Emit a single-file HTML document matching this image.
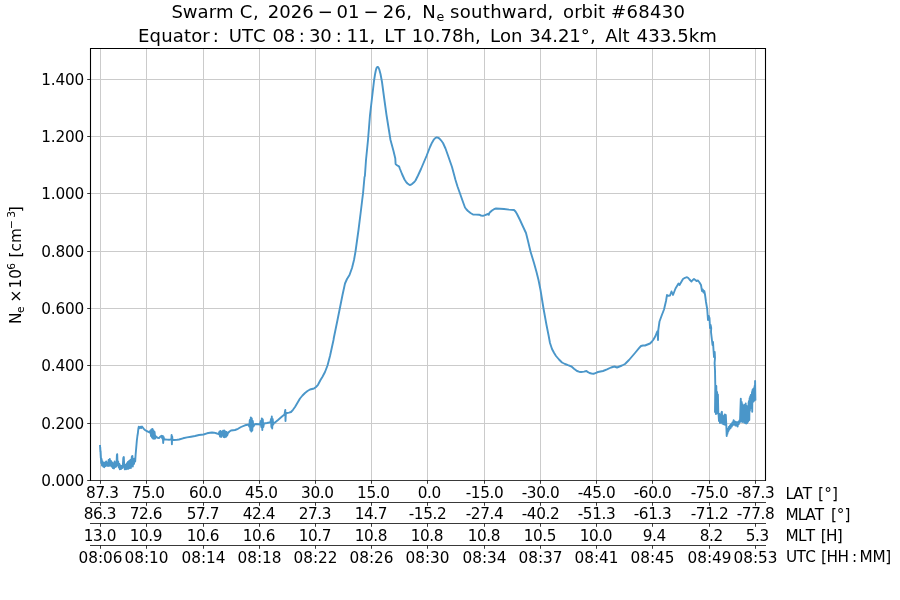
<!DOCTYPE html>
<html lang="en"><head><meta charset="utf-8"><title>Swarm C Ne</title>
<style>html,body{margin:0;padding:0;background:#fff}svg{display:block}text{font-kerning:none;font-family:"DejaVu Sans","Liberation Sans",sans-serif;fill:#000}.t{font-size:15.28px}.n{letter-spacing:-0.4px}.m{letter-spacing:-0.2px}.T{font-size:18.06px}.s{font-size:10.70px}.S{font-size:12.64px}</style></head><body>
<svg width="900" height="600" viewBox="0 0 900 600">
<rect width="900" height="600" fill="#fff"/>
<path d="M100.5 48.5V480.5M146.5 48.5V480.5M203.5 48.5V480.5M259.5 48.5V480.5M315.5 48.5V480.5M371.5 48.5V480.5M427.5 48.5V480.5M484.5 48.5V480.5M540.5 48.5V480.5M596.5 48.5V480.5M652.5 48.5V480.5M709.5 48.5V480.5M755.5 48.5V480.5M90.5 423.5H765.5M90.5 365.5H765.5M90.5 308.5H765.5M90.5 251.5H765.5M90.5 193.5H765.5M90.5 136.5H765.5M90.5 79.5H765.5" stroke="#cbcbcb" stroke-width="1" fill="none"/>
<path d="M100.0,445.0 100.4,452.0 100.2,447.0 100.8,458.0 100.6,451.0 101.2,463.0 101.6,459.0 102.0,465.5 102.6,461.5 103.2,466.5 103.8,463.0 104.3,467.2 105.0,462.5 105.6,466.0 106.2,461.5 106.8,465.5 107.5,463.0 108.0,466.0 108.6,460.0 109.2,465.8 109.8,459.0 110.4,465.5 111.0,461.0 111.6,466.5 112.2,462.5 112.8,468.0 113.4,463.5 114.0,468.5 114.6,461.5 115.2,467.0 115.8,463.0 116.4,466.5 116.9,455.0 117.2,454.2 117.6,465.0 118.2,461.5 118.8,467.5 119.4,464.0 119.8,469.3 120.4,465.5 121.0,469.0 121.6,466.0 122.2,468.0 122.8,466.0 123.3,458.0 123.8,457.0 124.3,467.5 124.9,469.4 125.5,465.0 126.1,469.2 126.7,463.5 127.3,468.8 127.9,462.0 128.5,468.8 129.1,461.0 129.7,468.0 130.3,460.0 130.9,468.0 131.5,459.5 131.9,456.5 132.4,456.0 132.8,466.5 133.4,459.0 134.0,464.0 134.6,458.5 135.2,461.5 135.6,455.0 136.2,448.0 136.8,441.0 137.4,436.0 137.9,433.0 138.1,431.0 138.4,428.5 138.8,426.6 139.6,428.2 140.4,426.8 141.2,428.0 142.0,426.5 142.8,427.5 143.8,428.8 145.0,430.0 146.5,431.0 148.0,431.6 149.5,432.5 150.5,430.5 151.0,436.0 151.5,429.5 152.0,437.5 152.5,429.0 153.0,438.5 153.5,430.5 154.0,438.8 154.6,432.0 155.2,438.5 156.0,436.5 157.5,437.8 159.0,438.0 160.5,436.5 161.5,435.8 162.3,438.5 162.8,436.0 163.2,443.0 163.6,437.0 164.2,439.5 165.5,439.5 167.0,439.6 169.0,439.7 170.5,439.5 171.4,439.2 171.6,435.0 171.9,444.3 172.2,436.5 172.5,440.0 174.0,440.0 177.0,439.8 179.0,439.5 183.0,438.3 187.0,437.4 191.0,436.7 195.0,436.0 199.0,435.0 203.5,434.5 207.0,433.3 210.0,432.7 212.0,432.5 214.0,432.7 217.0,433.5 218.5,434.2 219.5,431.5 220.0,436.5 220.6,431.0 221.2,437.0 221.8,432.0 222.4,435.5 223.0,430.8 223.6,437.0 224.2,430.5 224.8,437.2 225.4,431.5 226.0,436.8 226.6,432.0 227.2,435.5 228.0,433.0 229.5,431.5 231.0,430.5 235.0,430.0 238.0,428.8 241.0,427.0 245.0,425.3 247.5,424.8 248.5,424.8 249.3,426.5 249.8,420.0 250.3,430.0 250.8,417.5 251.3,431.5 251.8,418.5 252.3,430.5 252.8,421.0 253.4,426.5 254.5,424.5 256.0,424.0 258.5,424.2 260.0,424.5 260.8,421.0 261.3,427.0 261.8,418.5 262.3,430.0 262.8,419.5 263.3,427.0 264.0,423.5 267.0,423.0 269.5,422.5 270.5,422.0 271.0,419.0 271.4,427.0 271.8,416.5 272.2,428.5 272.7,419.0 273.2,424.5 274.0,422.8 275.0,422.5 278.0,420.0 282.0,416.5 284.5,414.5 285.0,411.5 285.3,410.0 285.5,421.0 285.8,414.0 286.5,413.2 287.0,413.0 289.0,412.6 291.0,412.0 293.0,409.8 295.0,407.0 297.5,402.8 300.0,398.5 302.5,395.5 305.0,393.0 307.5,391.0 310.0,389.5 312.0,389.0 314.0,388.5 316.0,387.0 318.0,384.8 320.5,380.0 322.5,376.8 325.0,372.0 327.5,365.5 330.0,356.0 333.5,340.0 333.8,338.0 337.5,320.0 339.8,308.5 342.5,295.0 345.0,283.5 347.0,279.0 349.5,275.0 352.0,268.0 354.0,260.0 355.5,251.5 358.5,230.0 361.0,210.0 362.2,200.0 363.0,193.7 364.5,177.0 364.9,176.0 366.0,160.0 368.0,140.0 370.0,115.0 372.0,98.0 374.0,81.0 375.0,74.5 375.8,70.5 376.5,68.0 377.2,67.0 377.9,67.0 378.6,67.8 379.3,69.5 380.5,74.0 382.0,82.0 384.0,97.0 386.5,115.0 390.5,140.0 393.5,151.0 395.3,158.5 395.6,164.0 397.0,165.2 398.2,166.0 399.0,166.3 400.0,169.0 402.0,174.0 404.5,179.5 406.0,181.8 407.5,183.5 409.0,184.6 410.0,185.0 411.0,184.7 412.0,184.0 414.0,182.3 415.5,180.5 418.0,175.5 421.0,169.0 426.5,156.0 430.0,147.0 432.0,142.7 434.0,139.3 435.5,137.8 436.8,137.3 438.0,137.6 439.5,138.6 441.0,140.3 443.0,143.0 445.5,148.5 448.0,155.5 452.0,167.0 455.5,180.0 457.5,186.5 460.0,193.5 463.0,202.0 465.0,207.5 466.5,209.5 468.0,211.0 470.5,213.0 473.0,214.5 476.0,214.6 479.0,214.7 481.0,215.5 483.0,215.9 485.0,215.2 488.0,214.0 488.8,214.8 489.5,212.8 492.0,210.5 494.0,209.2 496.0,208.5 500.0,208.7 504.0,209.0 509.0,209.6 514.0,210.0 515.5,211.5 517.0,214.0 520.0,220.0 522.5,225.5 526.0,233.0 528.0,241.0 530.5,251.5 534.0,263.0 536.5,272.0 538.5,280.0 540.5,290.0 543.5,308.5 546.5,325.0 548.5,335.0 550.0,343.0 552.0,349.0 554.0,352.8 556.0,356.0 559.0,359.5 562.0,362.5 565.0,364.0 568.0,365.2 571.5,366.5 574.0,368.7 577.0,371.0 579.0,371.7 581.0,372.0 584.0,371.6 586.5,371.0 588.0,372.2 589.5,373.0 591.5,373.5 593.5,373.8 596.0,372.8 598.0,372.0 603.0,371.0 607.0,369.4 611.0,367.5 614.5,366.5 617.0,367.5 619.5,366.5 622.0,365.5 625.0,364.0 629.0,360.0 635.0,353.0 639.0,348.2 641.0,346.0 643.0,345.5 645.0,345.5 647.5,344.5 650.0,343.5 652.0,341.5 653.5,339.5 655.5,336.0 657.0,332.0 657.7,331.0 658.0,340.0 658.3,330.0 659.5,321.5 661.5,316.0 664.0,309.5 666.0,301.0 667.0,295.0 668.5,295.8 670.0,295.5 671.5,291.5 673.0,295.0 675.5,288.5 678.5,283.5 679.5,285.0 683.0,279.0 685.0,277.8 687.0,277.2 688.3,278.0 689.5,279.5 691.5,281.5 692.8,280.0 694.0,279.0 695.3,280.0 696.5,281.0 698.0,280.5 699.5,282.5 701.0,285.0 701.5,288.0 702.0,291.0 702.8,289.5 703.5,292.5 704.3,291.0 705.0,294.5 706.0,302.0 707.2,309.0 708.0,320.0 708.8,316.0 709.5,318.0 710.0,328.0 710.6,325.0 711.2,328.0 711.0,332.0 712.5,345.0 713.0,342.0 713.5,350.0 714.0,357.0 714.7,352.0 715.0,358.0 714.6,363.0 715.0,370.0 715.3,386.0 715.0,412.0 715.6,395.0 715.9,414.0 716.3,386.0 716.7,413.5 717.1,392.0 717.5,413.0 717.9,394.5 718.3,412.0 718.6,415.0 719.0,421.0 719.5,414.0 720.0,423.0 720.5,415.0 721.0,422.5 721.5,412.5 721.9,411.8 722.3,423.5 722.8,415.5 723.3,424.0 723.8,416.5 724.3,424.5 724.8,414.5 725.3,424.8 725.8,415.0 726.3,425.0 726.7,436.0 727.0,431.0 727.4,434.0 727.8,429.0 728.3,431.5 728.8,427.0 729.4,429.5 730.0,425.5 730.6,428.0 731.2,424.0 731.8,426.5 732.4,422.5 733.0,425.0 733.6,420.3 734.2,424.5 734.8,421.5 735.4,425.5 736.0,422.0 736.6,425.5 737.2,422.5 737.6,426.5 738.2,422.0 738.8,424.0 739.4,420.5 740.0,422.0 740.4,410.0 740.8,398.8 741.2,421.0 741.7,402.0 742.2,422.0 742.7,404.5 743.2,421.5 743.7,406.0 744.2,422.5 744.7,405.0 745.2,423.0 745.7,403.5 746.2,423.5 746.7,406.0 747.2,423.0 747.7,408.0 748.2,421.5 748.6,403.0 749.0,401.0 749.3,420.0 749.6,398.3 749.9,410.7 750.2,396.5 750.5,407.5 750.8,395.0 751.1,408.0 751.4,395.6 751.7,408.6 752.0,392.0 752.2,411.8 752.5,390.0 752.8,402.1 753.1,389.0 753.5,401.5 753.9,388.3 754.3,400.5 754.6,386.0 754.9,400.0 755.1,381.0 755.4,400.5" fill="none" stroke="#4a96c9" stroke-width="1.9" stroke-linejoin="round" stroke-linecap="butt"/>
<path d="M90.5 481V48.5H765.5V481" fill="none" stroke="#000" stroke-width="1.1"/>
<path d="M90 480.5H766M90 502.5H766M90 523.5H766M90 545.5H766M100.5 480.5v3.3M146.5 480.5v3.3M203.5 480.5v3.3M259.5 480.5v3.3M315.5 480.5v3.3M371.5 480.5v3.3M427.5 480.5v3.3M484.5 480.5v3.3M540.5 480.5v3.3M596.5 480.5v3.3M652.5 480.5v3.3M709.5 480.5v3.3M755.5 480.5v3.3M100.5 502.5v3.3M146.5 502.5v3.3M203.5 502.5v3.3M259.5 502.5v3.3M315.5 502.5v3.3M371.5 502.5v3.3M427.5 502.5v3.3M484.5 502.5v3.3M540.5 502.5v3.3M596.5 502.5v3.3M652.5 502.5v3.3M709.5 502.5v3.3M755.5 502.5v3.3M100.5 523.5v3.3M146.5 523.5v3.3M203.5 523.5v3.3M259.5 523.5v3.3M315.5 523.5v3.3M371.5 523.5v3.3M427.5 523.5v3.3M484.5 523.5v3.3M540.5 523.5v3.3M596.5 523.5v3.3M652.5 523.5v3.3M709.5 523.5v3.3M755.5 523.5v3.3M100.5 545.5v3.3M146.5 545.5v3.3M203.5 545.5v3.3M259.5 545.5v3.3M315.5 545.5v3.3M371.5 545.5v3.3M427.5 545.5v3.3M484.5 545.5v3.3M540.5 545.5v3.3M596.5 545.5v3.3M652.5 545.5v3.3M709.5 545.5v3.3M755.5 545.5v3.3M90.5 480.5h-3.3M90.5 423.5h-3.3M90.5 365.5h-3.3M90.5 308.5h-3.3M90.5 251.5h-3.3M90.5 193.5h-3.3M90.5 136.5h-3.3M90.5 79.5h-3.3" stroke="#000" stroke-width="0.78" fill="none"/>
<text class="t m" x="84.0" y="486.0" text-anchor="end">0.000</text>
<text class="t m" x="84.0" y="429.0" text-anchor="end">0.200</text>
<text class="t m" x="84.0" y="371.0" text-anchor="end">0.400</text>
<text class="t m" x="84.0" y="314.0" text-anchor="end">0.600</text>
<text class="t m" x="84.0" y="257.0" text-anchor="end">0.800</text>
<text class="t m" x="84.0" y="199.0" text-anchor="end">1.000</text>
<text class="t m" x="84.0" y="142.0" text-anchor="end">1.200</text>
<text class="t m" x="84.0" y="85.0" text-anchor="end">1.400</text>
<text class="t n" x="102.3" y="497.6" text-anchor="middle">87.3</text>
<text class="t n" x="148.3" y="497.6" text-anchor="middle">75.0</text>
<text class="t n" x="205.3" y="497.6" text-anchor="middle">60.0</text>
<text class="t n" x="261.3" y="497.6" text-anchor="middle">45.0</text>
<text class="t n" x="317.3" y="497.6" text-anchor="middle">30.0</text>
<text class="t n" x="373.3" y="497.6" text-anchor="middle">15.0</text>
<text class="t n" x="429.3" y="497.6" text-anchor="middle">0.0</text>
<text class="t n" x="484.5" y="497.6" text-anchor="middle">-15.0</text>
<text class="t n" x="540.5" y="497.6" text-anchor="middle">-30.0</text>
<text class="t n" x="596.5" y="497.6" text-anchor="middle">-45.0</text>
<text class="t n" x="652.5" y="497.6" text-anchor="middle">-60.0</text>
<text class="t n" x="709.5" y="497.6" text-anchor="middle">-75.0</text>
<text class="t n" x="755.5" y="497.6" text-anchor="middle">-87.3</text>
<text class="t" x="785.6" y="498.9" letter-spacing="-0.90">LAT</text>
<text class="t" x="818.1" y="498.9" letter-spacing="0.10">[°]</text>
<text class="t n" x="99.9" y="518.9" text-anchor="middle">86.3</text>
<text class="t n" x="145.9" y="518.9" text-anchor="middle">72.6</text>
<text class="t n" x="202.9" y="518.9" text-anchor="middle">57.7</text>
<text class="t n" x="258.9" y="518.9" text-anchor="middle">42.4</text>
<text class="t n" x="314.9" y="518.9" text-anchor="middle">27.3</text>
<text class="t n" x="370.9" y="518.9" text-anchor="middle">14.7</text>
<text class="t n" x="427.5" y="518.9" text-anchor="middle">-15.2</text>
<text class="t n" x="484.5" y="518.9" text-anchor="middle">-27.4</text>
<text class="t n" x="540.5" y="518.9" text-anchor="middle">-40.2</text>
<text class="t n" x="596.5" y="518.9" text-anchor="middle">-51.3</text>
<text class="t n" x="652.5" y="518.9" text-anchor="middle">-61.3</text>
<text class="t n" x="709.5" y="518.9" text-anchor="middle">-71.2</text>
<text class="t n" x="755.5" y="518.9" text-anchor="middle">-77.8</text>
<text class="t" x="785.6" y="520.0" letter-spacing="-0.95">MLAT</text>
<text class="t" x="830.9" y="520.0">[°]</text>
<text class="t n" x="99.9" y="540.6" text-anchor="middle">13.0</text>
<text class="t n" x="145.9" y="540.6" text-anchor="middle">10.9</text>
<text class="t n" x="202.9" y="540.6" text-anchor="middle">10.6</text>
<text class="t n" x="258.9" y="540.6" text-anchor="middle">10.6</text>
<text class="t n" x="314.9" y="540.6" text-anchor="middle">10.7</text>
<text class="t n" x="370.9" y="540.6" text-anchor="middle">10.8</text>
<text class="t n" x="426.9" y="540.6" text-anchor="middle">10.8</text>
<text class="t n" x="483.9" y="540.6" text-anchor="middle">10.8</text>
<text class="t n" x="539.9" y="540.6" text-anchor="middle">10.5</text>
<text class="t n" x="595.9" y="540.6" text-anchor="middle">10.0</text>
<text class="t n" x="654.3" y="540.6" text-anchor="middle">9.4</text>
<text class="t n" x="711.3" y="540.6" text-anchor="middle">8.2</text>
<text class="t n" x="757.3" y="540.6" text-anchor="middle">5.3</text>
<text class="t" x="785.6" y="541.2" letter-spacing="-0.80">MLT</text>
<text class="t" x="820.8" y="541.2" letter-spacing="-0.70">[H]</text>
<text class="t" x="100.5" y="562.6" text-anchor="middle">08:06</text>
<text class="t" x="146.5" y="562.6" text-anchor="middle">08:10</text>
<text class="t" x="203.5" y="562.6" text-anchor="middle">08:14</text>
<text class="t" x="259.5" y="562.6" text-anchor="middle">08:18</text>
<text class="t" x="315.5" y="562.6" text-anchor="middle">08:22</text>
<text class="t" x="371.5" y="562.6" text-anchor="middle">08:26</text>
<text class="t" x="427.5" y="562.6" text-anchor="middle">08:30</text>
<text class="t" x="484.5" y="562.6" text-anchor="middle">08:34</text>
<text class="t" x="540.5" y="562.6" text-anchor="middle">08:37</text>
<text class="t" x="596.5" y="562.6" text-anchor="middle">08:41</text>
<text class="t" x="652.5" y="562.6" text-anchor="middle">08:45</text>
<text class="t" x="709.5" y="562.6" text-anchor="middle">08:49</text>
<text class="t" x="755.5" y="562.6" text-anchor="middle">08:53</text>
<text class="t" x="785.9" y="562.4" letter-spacing="-0.60">UTC</text>
<text class="t" x="821.0" y="562.4" letter-spacing="-0.50">[HH</text>
<text class="t" x="852.0" y="562.4">:</text>
<text class="t" x="859.6" y="562.4" letter-spacing="-0.30">MM]</text>
<text class="T" x="171.4" y="18.0">Swarm</text>
<text class="T" x="239.7" y="18.0">C</text>
<text class="T" x="253.0" y="18.0">,</text>
<text class="T" x="267.7" y="18.0">2026</text>
<text class="T" x="317.7" y="18.0">−</text>
<text class="T" x="336.6" y="18.0">01</text>
<text class="T" x="363.5" y="18.0">−</text>
<text class="T" x="382.8" y="18.0" letter-spacing="0.20">26,</text>
<text class="T" x="422.3" y="18.0">N</text>
<text class="S" x="436.6" y="20.6">e</text>
<text class="T" x="450.1" y="18.0" letter-spacing="0.27">southward,</text>
<text class="T" x="563.1" y="18.0">orbit</text>
<text class="T" x="611.1" y="18.0" letter-spacing="0.25">#68430</text>
<text class="T" x="138.0" y="42.0" letter-spacing="0.14">Equator</text>
<text class="T" x="212.7" y="42.0">:</text>
<text class="T" x="228.7" y="42.0">UTC</text>
<text class="T" x="272.4" y="42.0">08</text>
<text class="T" x="298.7" y="42.0">:</text>
<text class="T" x="308.9" y="42.0">30</text>
<text class="T" x="335.7" y="42.0">:</text>
<text class="T" x="346.6" y="42.0">11,</text>
<text class="T" x="384.3" y="42.0">LT</text>
<text class="T" x="411.8" y="42.0">10.78h,</text>
<text class="T" x="489.9" y="42.0">Lon</text>
<text class="T" x="529.2" y="42.0">34.21°,</text>
<text class="T" x="605.2" y="42.0">Alt</text>
<text class="T" x="636.6" y="42.0" letter-spacing="0.10">433.5km</text>
<g transform="translate(20.6,322.5) rotate(-90)">
<text class="t" x="-1.4" y="0.0">N</text>
<text class="s" x="9.6" y="3.7">e</text>
<text class="t" x="20.1" y="0.0">×</text>
<text class="t" x="34.1" y="0.0">10</text>
<text class="s" x="52.7" y="-5.4">6</text>
<text class="t" x="65.1" y="0.0">[cm</text>
<text class="s" x="93.6" y="-5.4">−</text>
<text class="s" x="104.7" y="-5.4">3</text>
<text class="t" x="110.2" y="0.0">]</text>
</g>
</svg></body></html>
